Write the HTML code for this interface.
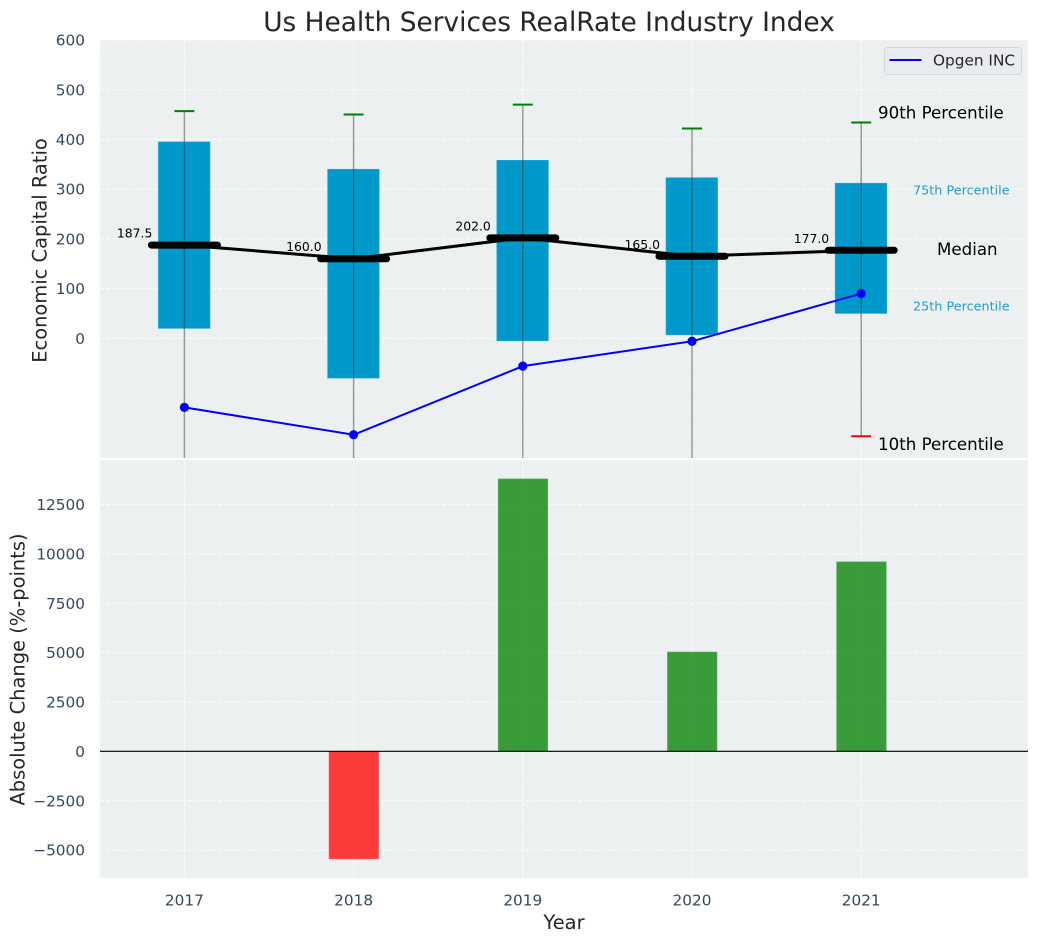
<!DOCTYPE html>
<html lang="en">
<head>
<meta charset="utf-8">
<title>Us Health Services RealRate Industry Index</title>
<style>
html,body{margin:0;padding:0;background:#fff;}
svg{display:block;font-family:"DejaVu Sans","Liberation Sans",sans-serif;}
</style>
</head>
<body>
<svg id="chart" xmlns="http://www.w3.org/2000/svg" width="1039" height="942" viewBox="0 0 1039 942">
  <defs>
    <clipPath id="clip-top"><rect x="100" y="40" width="928" height="418"/></clipPath>
    <clipPath id="clip-bottom"><rect x="100" y="460" width="928" height="418"/></clipPath>
  </defs>
  <rect x="100" y="40" width="928" height="418" fill="#ecf0f1"/>
  <rect x="100" y="460" width="928" height="418" fill="#ecf0f1"/>
  <g id="top-grid"></g>
  <g id="bottom-grid"></g>
  <g id="top-marks" clip-path="url(#clip-top)"></g>
  <g id="bottom-marks" clip-path="url(#clip-bottom)"></g>
  <g id="labels"></g>

  <text x="549" y="31" text-anchor="middle" font-size="26.4" fill="#262626">Us Health Services RealRate Industry Index</text>
  <text transform="translate(46.5,250.5) rotate(-90)" text-anchor="middle" font-size="19.44" fill="#262626">Economic Capital Ratio</text>
  <text transform="translate(24.5,669.5) rotate(-90)" text-anchor="middle" font-size="19.44" fill="#262626">Absolute Change (%-points)</text>
  <text x="564" y="929" text-anchor="middle" font-size="19.44" fill="#262626">Year</text>

  <text x="878" y="118.5" font-size="16.67" fill="#000">90th Percentile</text>
  <text x="913" y="194.5" font-size="12.8" fill="#1f9fcf">75th Percentile</text>
  <text x="937" y="255" font-size="16.67" fill="#000">Median</text>
  <text x="913" y="310.5" font-size="12.8" fill="#1f9fcf">25th Percentile</text>
  <text x="878" y="450" font-size="16.67" fill="#000">10th Percentile</text>

  <g>
    <rect x="884.5" y="47.5" width="137" height="27" rx="3" fill="#e9ebf1" stroke="#d5d7dc" stroke-width="1"/>
    <line x1="889.5" y1="60" x2="921.5" y2="60" stroke="#0000ff" stroke-width="2"/>
    <text x="933" y="65.5" font-size="15.3" fill="#262626">Opgen INC</text>
  </g>
</svg>
<script>
// Chart data
const years = [2017, 2018, 2019, 2020, 2021];
const p90 = [457, 450, 470, 422, 434];
const q75 = [395, 340, 358, 323, 312];
const medians = [187.5, 160, 202, 165, 177];
const q25 = [20, -80, -5, 7, 50];
const p10 = [-300, -300, -300, -243, -197];
const opgen = [-139, -194, -56, -6, 90];
const changes = [0, -5450, 13800, 5030, 9600];
const topTicks = [0, 100, 200, 300, 400, 500, 600];
const bottomTicks = [-5000, -2500, 0, 2500, 5000, 7500, 10000, 12500];

// Axis functions
const xAxis = function (year) { return 184.4 + (year - 2017) * 169.2; };
const yTop = function (v) { return 338.3 - v * 0.4972; };
const yBottom = function (v) { return 751.3 - v * 0.01974; };

const NS = 'http://www.w3.org/2000/svg';
function make(parent, tag, props, text) {
  const el = document.createElementNS(NS, tag);
  Object.keys(props).forEach(function (k) { el.setAttribute(k, props[k]); });
  if (text !== undefined) el.textContent = text;
  parent.appendChild(el);
  return el;
}
function fmtTick(v) { return v < 0 ? '\u2212' + Math.abs(v) : String(v); }

const topGrid = document.getElementById('top-grid');
const bottomGrid = document.getElementById('bottom-grid');
const topMarks = document.getElementById('top-marks');
const bottomMarks = document.getElementById('bottom-marks');
const labels = document.getElementById('labels');
const gridStyle = { stroke: '#ffffff', 'stroke-width': 1.1, 'stroke-dasharray': '4.1 1.8', 'stroke-opacity': 0.75 };

// Grid and tick labels
topTicks.forEach(function (t) {
  const g = make(topGrid, 'line', Object.assign({ x1: 100, x2: 1028, y1: yTop(t), y2: yTop(t) }, gridStyle));
  
  
  const l = make(labels, 'text', { x: 85, y: yTop(t) + 5.6, 'text-anchor': 'end', 'font-size': 15.3, fill: '#34495e' }, fmtTick(t));
  
  
});
bottomTicks.forEach(function (t) {
  const g = make(bottomGrid, 'line', Object.assign({ x1: 100, x2: 1028, y1: yBottom(t), y2: yBottom(t) }, gridStyle));
  
  
  const l = make(labels, 'text', { x: 85, y: yBottom(t) + 5.6, 'text-anchor': 'end', 'font-size': 15.3, fill: '#34495e' }, fmtTick(t));
  
  
});
years.forEach(function (yr) {
  const a = make(topGrid, 'line', Object.assign({ x1: xAxis(yr), x2: xAxis(yr), y1: 40, y2: 458 }, gridStyle));
  
  
  const b = make(bottomGrid, 'line', Object.assign({ x1: xAxis(yr), x2: xAxis(yr), y1: 460, y2: 878 }, gridStyle));
  
  
  const l = make(labels, 'text', { x: xAxis(yr), y: 905.5, 'text-anchor': 'middle', 'font-size': 15.3, fill: '#34495e' }, String(yr));
  
  
});

// Top panel: percentile boxes, whiskers, caps
years.forEach(function (yr, i) {
  const x = xAxis(yr);
  const box = make(topMarks, 'rect', {
    x: x - 26, width: 51.6, y: yTop(q75[i]), height: yTop(q25[i]) - yTop(q75[i]),
    fill: '#0099cc', stroke: '#2aa8d4', 'stroke-width': 0.6
  });
  
  
  const w = make(topMarks, 'line', {
    x1: x, x2: x, y1: yTop(p90[i]), y2: yTop(p10[i]),
    stroke: '#333333', 'stroke-opacity': 0.5, 'stroke-width': 1.4
  });
  
  
  const c90 = make(topMarks, 'line', { x1: x - 10, x2: x + 10, y1: yTop(p90[i]), y2: yTop(p90[i]), stroke: '#008000', 'stroke-width': 2 });
  
  
  const c10 = make(topMarks, 'line', { x1: x - 10, x2: x + 10, y1: yTop(p10[i]), y2: yTop(p10[i]), stroke: '#ff0000', 'stroke-width': 2 });
  
  
});

// Median connector, markers and labels
const medianLine = make(topMarks, 'polyline', {
  points: years.map(function (yr, i) { return xAxis(yr) + ',' + yTop(medians[i]); }).join(' '),
  fill: 'none', stroke: '#000000', 'stroke-width': 3
});


years.forEach(function (yr, i) {
  const x = xAxis(yr);
  const m = make(topMarks, 'line', {
    x1: x - 33, x2: x + 33, y1: yTop(medians[i]), y2: yTop(medians[i]),
    stroke: '#000000', 'stroke-width': 7, 'stroke-linecap': 'round'
  });
  
  
  const l = make(labels, 'text', {
    x: x - 32, y: yTop(medians[i]) - 7.5, 'text-anchor': 'end', 'font-size': 12.4, fill: '#000000'
  }, medians[i].toFixed(1));
  
  
});

// Opgen INC series
const opgenLine = make(topMarks, 'polyline', {
  points: years.map(function (yr, i) { return xAxis(yr) + ',' + yTop(opgen[i]); }).join(' '),
  fill: 'none', stroke: '#0000ff', 'stroke-width': 2
});


years.forEach(function (yr, i) {
  const p = make(topMarks, 'circle', { cx: xAxis(yr), cy: yTop(opgen[i]), r: 4.6, fill: '#0000ff' });
  
  
});

// Bottom panel: absolute change bars
years.forEach(function (yr, i) {
  const v = changes[i];
  if (v === 0) return;
  const top = Math.min(yBottom(v), yBottom(0));
  const h = Math.abs(yBottom(v) - yBottom(0));
  const b = make(bottomMarks, 'rect', {
    x: xAxis(yr) - 24.6, width: 49.6, y: top, height: h,
    fill: v >= 0 ? '#008000' : '#ff0000', 'fill-opacity': 0.76,
    stroke: v >= 0 ? '#5cb85c' : '#ff6666', 'stroke-width': 0.6
  });
  
  
});
const zero = make(bottomMarks, 'line', { x1: 100, x2: 1028, y1: yBottom(0), y2: yBottom(0), stroke: '#000000', 'stroke-width': 1.2 });


</script>
</body>
</html>
